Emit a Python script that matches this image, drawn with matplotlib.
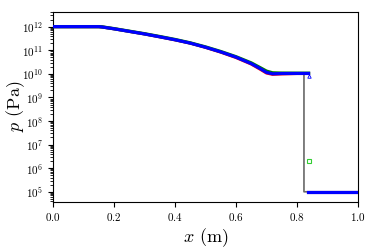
import matplotlib
matplotlib.use("Agg")
import matplotlib.pyplot as plt

plt.rcParams['mathtext.fontset'] = 'cm'
plt.rcParams['font.family'] = 'serif'
plt.rcParams['font.serif'] = ['cmr10', 'DejaVu Serif']
plt.rcParams['axes.formatter.use_mathtext'] = True

# exact solution
x_exact = [0.0, 0.15, 0.17, 0.20, 0.25, 0.30, 0.35, 0.40, 0.45, 0.50, 0.55,
           0.60, 0.65, 0.68, 0.70, 0.715, 0.75, 0.80, 0.823, 0.823, 1.0]
p_exact = [1e12, 1e12, 9.4e11, 8.1e11, 6.3e11, 4.9e11, 3.7e11, 2.75e11, 2.0e11,
           1.32e11, 8.3e10, 5.0e10, 2.7e10, 1.66e10, 1.2e10, 1.05e10, 1.05e10,
           1.05e10, 1.05e10, 1e5, 1e5]

# numerical solutions
x_num = [0.0, 0.15, 0.16, 0.20, 0.25, 0.30, 0.35, 0.40, 0.45, 0.50, 0.55,
         0.60, 0.65, 0.68, 0.70, 0.72, 0.75, 0.80, 0.838]
p_red = [1e12, 1e12, 9.7e11, 8.1e11, 6.3e11, 4.9e11, 3.7e11, 2.75e11, 2.0e11,
         1.32e11, 8.3e10, 4.9e10, 2.6e10, 1.55e10, 1.08e10, 9.5e9, 9.9e9,
         1.03e10, 1.03e10]
p_green = [1e12, 1e12, 9.8e11, 8.2e11, 6.4e11, 5.0e11, 3.8e11, 2.85e11, 2.05e11,
           1.38e11, 8.8e10, 5.3e10, 2.9e10, 1.8e10, 1.3e10, 1.1e10, 1.07e10,
           1.06e10, 1.06e10]
p_blue = [1e12, 1e12, 9.7e11, 8.1e11, 6.3e11, 4.9e11, 3.7e11, 2.78e11, 2.0e11,
          1.34e11, 8.5e10, 5.1e10, 2.7e10, 1.65e10, 1.15e10, 1.0e10, 1.03e10,
          1.04e10, 1.04e10]
x_low = [0.835, 1.0]
p_low = [1e5, 1e5]

# points inside the shock
x_shock = 0.838
p_green_shock = 2e6
p_blue_shock = 7.8e9

fig = plt.figure(figsize=(3.74, 2.49), dpi=100)
ax = fig.add_axes([0.142, 0.19, 0.815, 0.762])

ax.plot(x_exact, p_exact, color='dimgray', lw=1.2, zorder=1)
ax.plot(x_num, p_red, color='red', lw=2.2, zorder=2)
ax.plot(x_num, p_green, color='green', lw=2.4, zorder=3)
ax.plot(x_num, p_blue, color='blue', lw=2.3, zorder=4)
ax.plot(x_low, p_low, color='red', lw=2.2, zorder=2)
ax.plot(x_low, p_low, color='blue', lw=2.3, zorder=4)
ax.plot([x_shock], [p_green_shock], 's', mfc='none', mec='limegreen', ms=2.5, mew=0.8, zorder=5)
ax.plot([x_shock], [p_blue_shock], '^', mfc='none', mec='blue', ms=2.5, mew=0.6, zorder=5)

ax.set_yscale('log')
ax.set_xlim(0, 1)
ax.set_ylim(3.8e4, 4.2e12)
ax.tick_params(labelsize=8)
ax.set_xlabel('$x$ (m)', fontsize=13, labelpad=2)
ax.set_ylabel('$p$ (Pa)', fontsize=13)
ax.yaxis.set_label_coords(-0.085, 0.5)

fig.savefig('out.png', dpi=100)
